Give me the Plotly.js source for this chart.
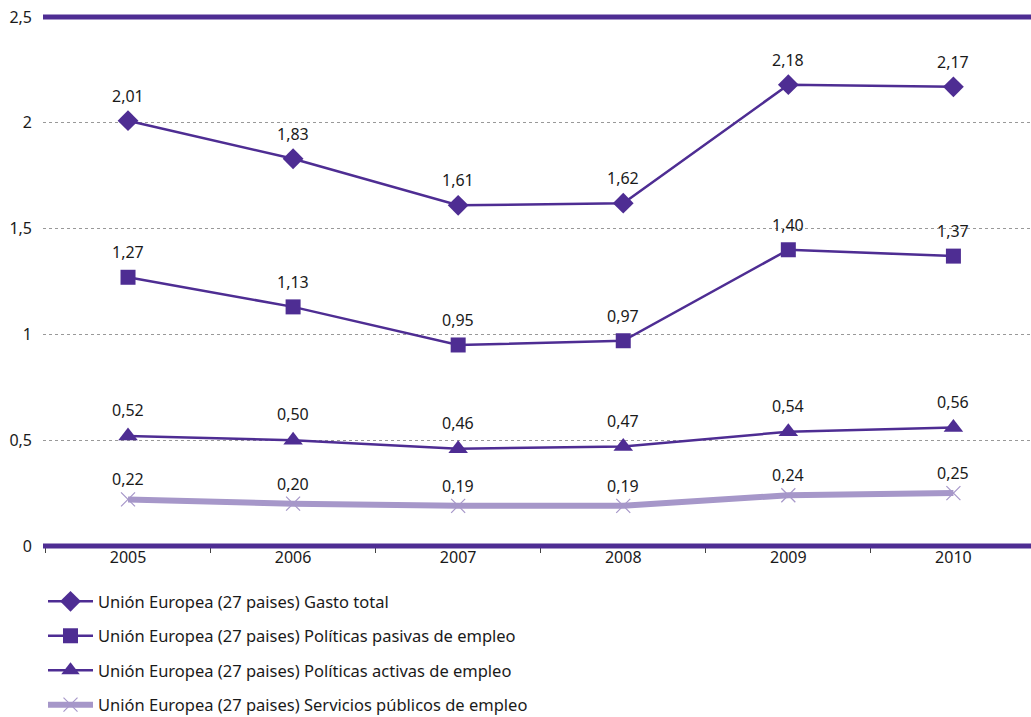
<!DOCTYPE html>
<html><head><meta charset="utf-8">
<script src="https://cdn.plot.ly/plotly-3.0.1.min.js"></script>
<style>html,body{margin:0;padding:0;background:#fff}#chart{width:1031px;height:717px}</style>
</head><body><div id="chart"></div>
<script>
const years = ['2005','2006','2007','2008','2009','2010'];
const gastoTotal = [2.01, 1.83, 1.61, 1.62, 2.18, 2.17];
const pasivas = [1.27, 1.13, 0.95, 0.97, 1.40, 1.37];
const activas = [0.52, 0.50, 0.46, 0.47, 0.54, 0.56];
const servicios = [0.22, 0.20, 0.19, 0.19, 0.24, 0.25];
const names = [
  'Unión Europea (27 paises) Gasto total',
  'Unión Europea (27 paises) Políticas pasivas de empleo',
  'Unión Europea (27 paises) Políticas activas de empleo',
  'Unión Europea (27 paises) Servicios públicos de empleo'
];
const yTicks = [0, 0.5, 1, 1.5, 2, 2.5];
const yTickText = ['0', '0,5', '1', '1,5', '2', '2,5'];

const dark = '#4E2D93';
const light = '#A697C9';
const FONT = 'Noto Sans, sans-serif';
const TXT = '#1a1a1a';
const fmt = v => v.toFixed(2).replace('.', ',');

function tr(vals, name, color, width, symbol, size, grp, mline) {
  return {
    x: years, y: vals, name: name, type: 'scatter', mode: 'lines+markers',
    legendgroup: grp,
    line: {color: color, width: width},
    marker: {symbol: symbol, size: size, color: color, line: mline || {width: 0}},
    cliponaxis: false
  };
}
const data = [
  tr(gastoTotal, names[0], dark, 2.5, 'diamond', 16, 'a'),
  tr(pasivas, names[1], dark, 2.5, 'square', 15, 'b'),
  tr(activas, names[2], dark, 2.5, 'triangle-up', 17, 'c'),
  tr(servicios, names[3], light, 6, 'x-thin-open', 14, 'd', {color: light, width: 1.2})
];

const annotations = [];
[[gastoTotal, 25], [pasivas, 25], [activas, 26], [servicios, 20]].forEach(([vals, sh]) => {
  vals.forEach((v, i) => annotations.push({
    x: i, y: v, xref: 'x', yref: 'y', text: fmt(v), showarrow: false,
    yshift: sh, font: {family: FONT, size: 16, color: TXT}
  }));
});

const layout = {
  width: 1031, height: 717,
  margin: {l: 43, r: 0, t: 17, b: 171, autoexpand: false},
  paper_bgcolor: '#fff', plot_bgcolor: '#fff',
  separators: ',.',
  font: {family: FONT, size: 16, color: TXT},
  showlegend: true,
  legend: {x: 0, xanchor: 'left', y: -0.072, yanchor: 'top', orientation: 'v',
           tracegroupgap: 10, itemwidth: 45,
           font: {family: FONT, size: 16.5, color: TXT},
           bgcolor: 'rgba(0,0,0,0)'},
  xaxis: {type: 'category', range: [-0.515, 5.47], showgrid: false, zeroline: false,
          showline: false, ticks: 'outside', tickson: 'boundaries', ticklen: 6,
          tickcolor: '#444', tickwidth: 1,
          tickfont: {family: FONT, size: 16, color: TXT}},
  yaxis: {range: [0, 2.5], tickvals: yTicks, ticktext: yTickText, showgrid: true,
          gridcolor: '#999', griddash: 'dot', gridwidth: 1, zeroline: false,
          showline: false, ticks: '', ticklabelstandoff: 10,
          tickfont: {family: FONT, size: 16, color: TXT}},
  annotations: annotations,
  shapes: [
    {type: 'line', xref: 'paper', yref: 'paper', x0: 0, x1: 1, y0: 1, y1: 1,
     line: {color: dark, width: 5}},
    {type: 'line', xref: 'paper', yref: 'paper', x0: 0, x1: 1, y0: 0, y1: 0,
     line: {color: dark, width: 5}}
  ]
};
Plotly.newPlot('chart', data, layout, {displayModeBar: false, staticPlot: true});
</script></body></html>
